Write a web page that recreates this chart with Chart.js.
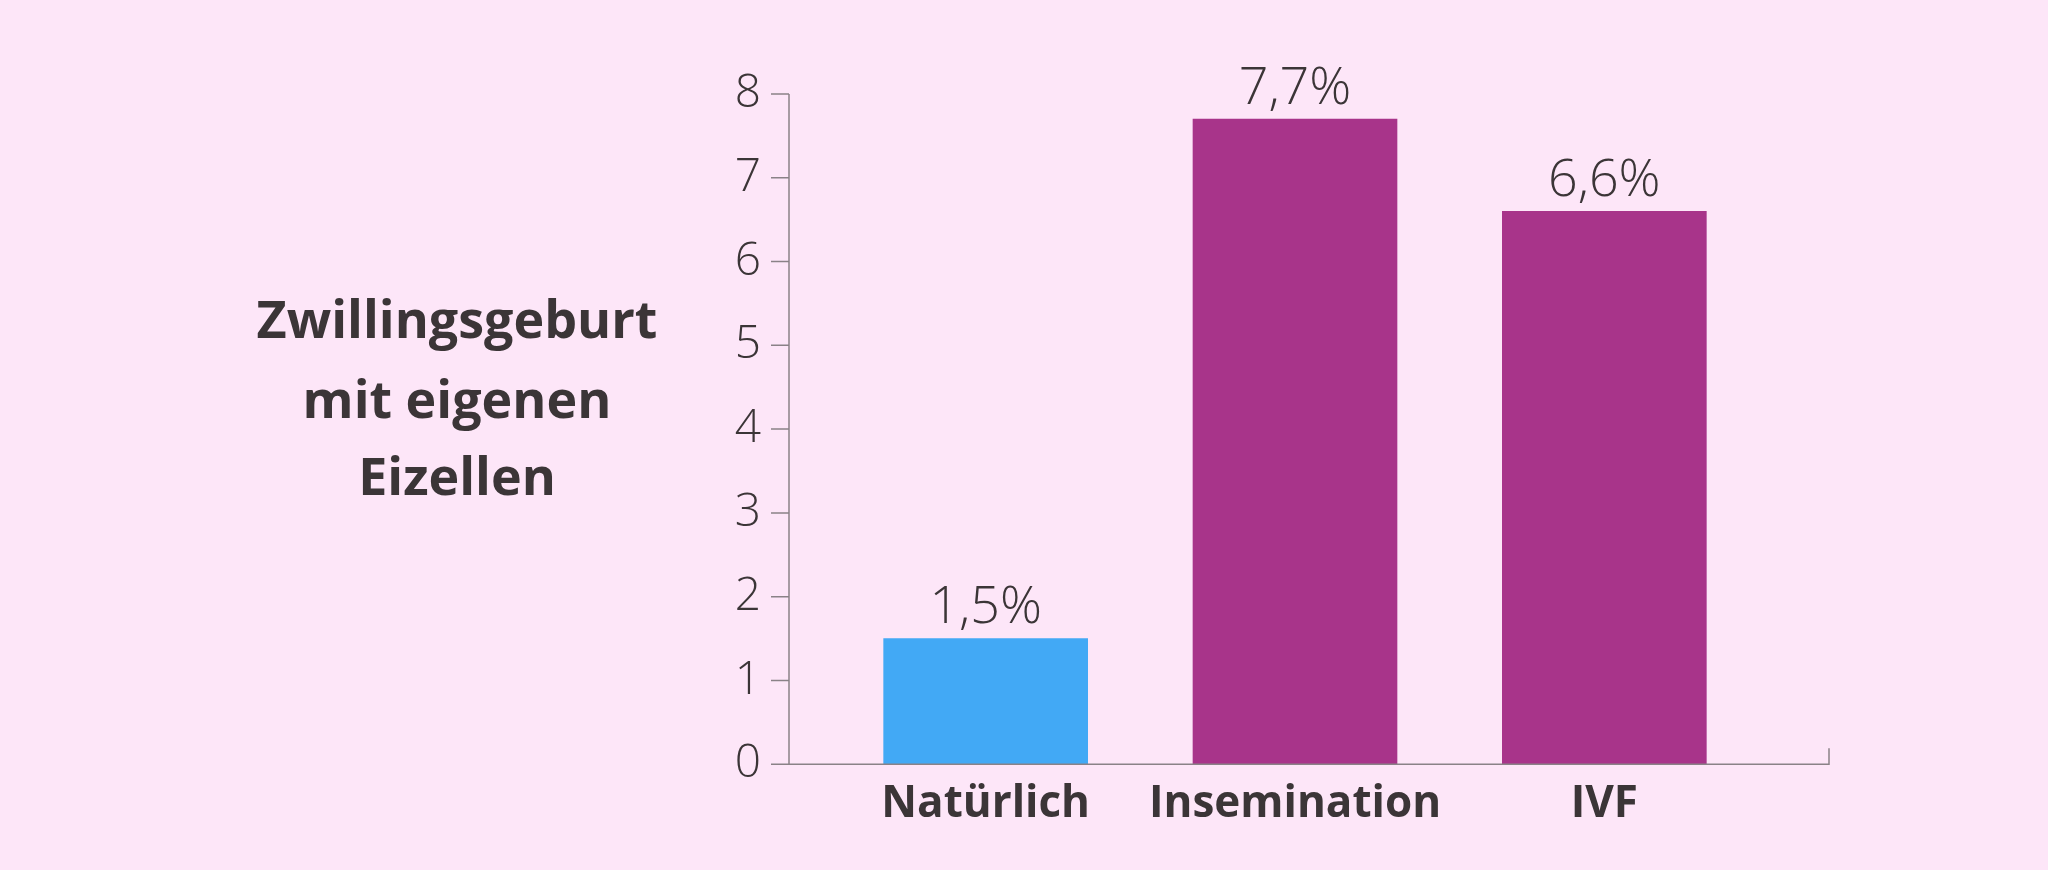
<!DOCTYPE html>
<html><head><meta charset="utf-8">
<script src="https://cdn.jsdelivr.net/npm/chart.js@4/dist/chart.umd.min.js"></script>
<style>
html,body{margin:0;padding:0;background:#fde6f8;}
#wrap{width:2048px;height:870px;}
</style></head>
<body><div id="wrap"><canvas id="c"></canvas></div>
<script>
const categories = ["Natürlich", "Insemination", "IVF"];
const values = [1.5, 7.7, 6.6];
const valueLabels = ["1,5%", "7,7%", "6,6%"];
const barColors = ["#42a9f5", "#a8348a"];
const titleLines = ["Zwillingsgeburt", "mit eigenen", "Eizellen"];
const textColor = "#3b3537";
const axisColor = "#8a8287";

// axis lines sit a bit outside the plot area, as in the original
const axisLeft = 789, axisRight = 1829;

const extras = {
  id: "extras",
  afterDraw(chart) {
    const ctx = chart.ctx;
    const y = chart.scales.y;
    ctx.save();
    ctx.fillStyle = textColor;
    ctx.font = "bold 52px 'Open Sans'";
    ctx.textAlign = "center";
    ctx.textBaseline = "middle";
    const ys = [323, 403, 480];
    titleLines.forEach((t, i) => ctx.fillText(t, 457, ys[i]));

    ctx.font = "300 52px 'Open Sans'";
    ctx.textBaseline = "bottom";
    const meta = chart.getDatasetMeta(0);
    meta.data.forEach((b, i) => ctx.fillText(valueLabels[i], b.x, b.y - 4));

    ctx.strokeStyle = axisColor;
    ctx.lineWidth = 1.5;
    ctx.beginPath();
    ctx.moveTo(axisLeft, y.top);
    ctx.lineTo(axisLeft, y.bottom);
    ctx.lineTo(axisRight, y.bottom);
    ctx.lineTo(axisRight, y.bottom - 16);
    y.ticks.forEach(t => {
      const py = y.getPixelForValue(t.value);
      ctx.moveTo(axisLeft - 18, py);
      ctx.lineTo(axisLeft, py);
    });
    ctx.stroke();
    ctx.restore();
  }
};

new Chart(document.getElementById("c"), {
  type: "bar",
  data: {
    labels: categories,
    datasets: [{
      data: values,
      backgroundColor: values.map((v, i) => i === 0 ? barColors[0] : barColors[1]),
      barThickness: 204
    }]
  },
  options: {
    responsive: true,
    maintainAspectRatio: false,
    animation: false,
    layout: { padding: { left: 0, right: 289, top: 94, bottom: 33 } },
    plugins: { legend: { display: false }, tooltip: { enabled: false } },
    scales: {
      y: {
        min: 0, max: 8,
        afterFit(s) { s.width = 831; },
        ticks: { stepSize: 1, color: textColor, font: { family: "'Open Sans'", size: 46, weight: 300 }, padding: 62 },
        grid: { display: false },
        border: { display: false }
      },
      x: {
        ticks: { color: textColor, font: { family: "'Open Sans'", size: 44, weight: "bold" }, padding: 6 },
        grid: { display: false },
        border: { display: false }
      }
    }
  },
  plugins: [extras]
});
</script></body></html>
